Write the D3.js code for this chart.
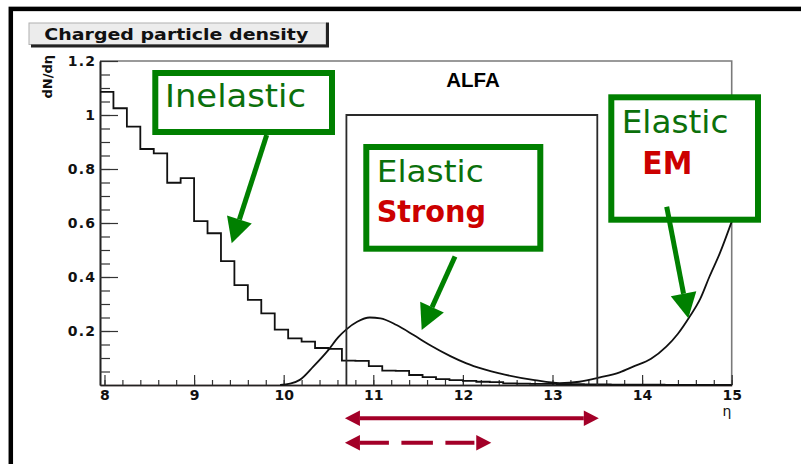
<!DOCTYPE html>
<html><head><meta charset="utf-8">
<script src="https://cdn.jsdelivr.net/npm/d3@7"></script>
<style>html,body{margin:0;padding:0;background:#fff;} svg{display:block;}</style>
</head><body><svg id="c" width="801" height="464"></svg>
<script>
// ---------- data ----------
const binStart = 7.95;
const binWidth = 0.15;
const inelasticDensity = [1.086, 1.025, 0.957, 0.874, 0.858, 0.749, 0.766, 0.607, 0.562, 0.459,
  0.370, 0.315, 0.265, 0.205, 0.173, 0.161, 0.137, 0.134, 0.090, 0.089,
  0.070, 0.053, 0.052, 0.037, 0.029, 0.022, 0.018, 0.015, 0.012, 0.011,
  0.006, 0.005, 0.004, 0.004, 0.003, 0.003, 0.002, 0.002, 0.001, 0.001,
  0.001, 0.001, 0, 0, 0, 0, 0];
const elasticEta = [9.96, 10.07, 10.18, 10.33, 10.50, 10.61, 10.70, 10.82, 10.96, 11.08,
  11.26, 11.45, 11.63, 11.86, 12.04, 12.12, 12.41, 12.80, 13.08, 13.30,
  13.53, 13.75, 13.90, 14.10, 14.27, 14.40, 14.53, 14.65, 14.75, 14.87, 15.0];
const elasticVal = [0, 0.005, 0.019, 0.068, 0.13, 0.177, 0.206, 0.234, 0.25, 0.247,
  0.222, 0.185, 0.148, 0.107, 0.08, 0.07, 0.043, 0.018, 0.007, 0.012,
  0.028, 0.047, 0.068, 0.097, 0.142, 0.19, 0.253, 0.32, 0.40, 0.49, 0.605];
const xTicks = [8, 9, 10, 11, 12, 13, 14, 15];
const yTicks = [0.2, 0.4, 0.6, 0.8, 1, 1.2];
const yTickLabels = ["0.2", "0.4", "0.6", "0.8", "1", "1.2"];
const alfaRange = [10.7, 13.5];
const alfaTop = 1.0;
const strongRange = [10.7, 12.3];
const titleText = "Charged particle density";
const yTitle = "dN/d\u03b7";
const xTitle = "\u03b7";

// ---------- setup ----------
const svg = d3.select("#c");
const x = d3.scaleLinear().domain([7.95, 15]).range([100, 731.7]);
const y = d3.scaleLinear().domain([0, 1.2]).range([385, 61]);
const GREEN = "#008000", GREEN_TXT = "#0b700b", RED_TXT = "#cc0000", DARKRED = "#a30028";
const HAND = "'Comic Sans MS','DejaVu Sans',sans-serif";

svg.append("rect").attr("width", 801).attr("height", 464).attr("fill", "#fff");
// outer black frame
svg.append("rect").attr("x", 10.8).attr("y", 8.9).attr("width", 900).attr("height", 600)
  .attr("fill", "none").attr("stroke", "#000").attr("stroke-width", 4.5);

// title box
svg.append("rect").attr("x", 29).attr("y", 23).attr("width", 297).attr("height", 21.5)
  .attr("fill", "#ececec").attr("stroke", "#b0b0b0").attr("stroke-width", 1);
svg.append("path").attr("d", "M327.5,22.5 V46 H31").attr("fill", "none")
  .attr("stroke", "#222").attr("stroke-width", 3);
svg.append("text").attr("x", 44.3).attr("y", 40).text(titleText)
  .attr("font-family", "'DejaVu Sans',sans-serif").attr("font-weight", "bold")
  .attr("font-size", 15.5).attr("textLength", 264).attr("lengthAdjust", "spacingAndGlyphs")
  .attr("fill", "#111");

// plot frame (top and right)
svg.append("path")
  .attr("d", `M${x(7.95)},${y(1.2)} H${x(15)} V${y(0)}`)
  .attr("fill", "none").attr("stroke", "#7a7a7a").attr("stroke-width", 1.6);

// ALFA title
svg.append("text").attr("x", 473).attr("y", 87).attr("text-anchor", "middle").text("ALFA")
  .attr("font-family", "'Liberation Sans',Arial,sans-serif").attr("font-weight", "bold")
  .attr("font-size", 20.5).attr("fill", "#000");

// ---------- axes ----------
const yAxis = svg.append("g").attr("transform", `translate(${x(7.95)},0)`)
  .call(d3.axisLeft(y).tickValues(yTicks).tickFormat((d, i) => yTickLabels[i])
    .tickSizeInner(-18).tickSizeOuter(0).tickPadding(5));
const yMinor = svg.append("g").attr("transform", `translate(${x(7.95)},0)`)
  .call(d3.axisLeft(y).tickValues(d3.range(1, 24).map(i => i * 0.05))
    .tickFormat("").tickSizeInner(-10).tickSizeOuter(0));
const xAxis = svg.append("g").attr("transform", `translate(0,${y(0)})`)
  .call(d3.axisBottom(x).tickValues(xTicks).tickFormat(d3.format("d"))
    .tickSizeInner(-10).tickSizeOuter(0).tickPadding(5));
const xMinor = svg.append("g").attr("transform", `translate(0,${y(0)})`)
  .call(d3.axisBottom(x).tickValues(d3.range(0, 36).map(i => 8 + i * 0.2))
    .tickFormat("").tickSizeInner(-5).tickSizeOuter(0));
[yAxis, yMinor, xAxis, xMinor].forEach(g => {
  g.selectAll("path.domain").attr("stroke", "#222").attr("stroke-width", 1.6);
  g.selectAll(".tick line").attr("stroke", "#333").attr("stroke-width", 1.2);
  g.selectAll("text").attr("font-family", "'DejaVu Sans',sans-serif")
    .attr("font-weight", "bold").attr("font-size", 14).attr("fill", "#111");
});
yAxis.selectAll("text").attr("letter-spacing", 1.2).attr("dx", 1.2);
xAxis.select("path.domain").attr("stroke", "#5a3a3a");

// axis titles
svg.append("text").attr("transform", "translate(52,55) rotate(-90)")
  .attr("text-anchor", "end").text(yTitle)
  .attr("font-family", "'DejaVu Sans',sans-serif").attr("font-weight", "bold")
  .attr("font-size", 13).attr("fill", "#111");
svg.append("text").attr("x", 727).attr("y", 416).attr("text-anchor", "middle").text(xTitle)
  .attr("font-family", "'DejaVu Sans',sans-serif").attr("font-size", 14).attr("fill", "#111");

// ---------- histogram (inelastic) ----------
const histPts = inelasticDensity.map((v, i) => [binStart + i * binWidth, v]);
histPts.push([binStart + inelasticDensity.length * binWidth, inelasticDensity[inelasticDensity.length - 1]]);
svg.append("path").datum(histPts)
  .attr("d", d3.line().x(d => x(d[0])).y(d => y(d[1])).curve(d3.curveStepAfter))
  .attr("fill", "none").attr("stroke", "#111").attr("stroke-width", 1.8);

// ---------- elastic curve ----------
const curvePts = elasticEta.map((e, i) => [e, elasticVal[i]]);
svg.append("path").datum(curvePts)
  .attr("d", d3.line().x(d => x(d[0])).y(d => y(d[1])).curve(d3.curveMonotoneX))
  .attr("fill", "none").attr("stroke", "#111").attr("stroke-width", 1.8);

// ---------- ALFA acceptance box ----------
svg.append("path")
  .attr("d", `M${x(alfaRange[0])},${y(0)} V${y(alfaTop)} H${x(alfaRange[1])} V${y(0)}`)
  .attr("fill", "none").attr("stroke", "#2a2a2a").attr("stroke-width", 1.8);

// ---------- annotation helpers ----------
function arrowHead(g, x1, y1, x2, y2, len, half, color) {
  const a = Math.atan2(y2 - y1, x2 - x1);
  const bx = x2 - len * Math.cos(a), by = y2 - len * Math.sin(a);
  const px = -Math.sin(a) * half, py = Math.cos(a) * half;
  g.append("path").attr("d", `M${x2},${y2} L${bx + px},${by + py} L${bx - px},${by - py} Z`)
    .attr("fill", color);
  return [bx, by];
}
function greenArrow(x1, y1, x2, y2) {
  const g = svg.append("g");
  const [bx, by] = arrowHead(g, x1, y1, x2, y2, 25, 13, GREEN);
  g.insert("line", "path").attr("x1", x1).attr("y1", y1).attr("x2", bx).attr("y2", by)
    .attr("stroke", GREEN).attr("stroke-width", 5);
}
function greenBox(x0, y0, x1, y1) {
  svg.append("rect").attr("x", x0).attr("y", y0).attr("width", x1 - x0).attr("height", y1 - y0)
    .attr("fill", "#fff").attr("stroke", GREEN).attr("stroke-width", 6);
}
function label(txt, x0, yb, w, size, color, bold) {
  svg.append("text").attr("x", x0).attr("y", yb).text(txt)
    .attr("font-family", HAND).attr("font-size", size).attr("fill", color)
    .attr("font-weight", bold ? "bold" : "normal")
    .attr("textLength", w).attr("lengthAdjust", "spacingAndGlyphs");
}

// Inelastic
greenBox(155.3, 73, 332, 132);
label("Inelastic", 165, 107.3, 141, 32, GREEN_TXT, false);
greenArrow(266.7, 135, 231.7, 243.3);

// Elastic Strong
greenBox(366.3, 147, 540.3, 248.7);
label("Elastic", 376.7, 181.7, 107, 31, GREEN_TXT, false);
label("Strong", 376.7, 221.7, 109.3, 31, RED_TXT, true);
greenArrow(455, 256.5, 421.7, 330);

// Elastic EM
greenBox(611.3, 97.3, 758, 219.7);
label("Elastic", 621.7, 133.3, 106.7, 32, GREEN_TXT, false);
label("EM", 642.3, 174.3, 50, 32, RED_TXT, true);
greenArrow(666.7, 206.7, 688.3, 318.3);

// ---------- range arrows ----------
function rangeArrow(e0, e1, yy, dashed) {
  const g = svg.append("g");
  const xa = x(e0) - 1.5, xb = x(e1) + 1.5;
  arrowHead(g, xb, yy, xa, yy, 15, 7.8, DARKRED);
  arrowHead(g, xa, yy, xb, yy, 15, 7.8, DARKRED);
  const ln = g.append("line").attr("x1", xa + 15).attr("x2", xb - 15).attr("y1", yy).attr("y2", yy)
    .attr("stroke", DARKRED).attr("stroke-width", 4);
  if (dashed) ln.attr("stroke-dasharray", "29,12.5,31.5,12.5");
}
rangeArrow(alfaRange[0], alfaRange[1], 418.3, false);
rangeArrow(strongRange[0], strongRange[1], 442.7, true);
</script></body></html>
